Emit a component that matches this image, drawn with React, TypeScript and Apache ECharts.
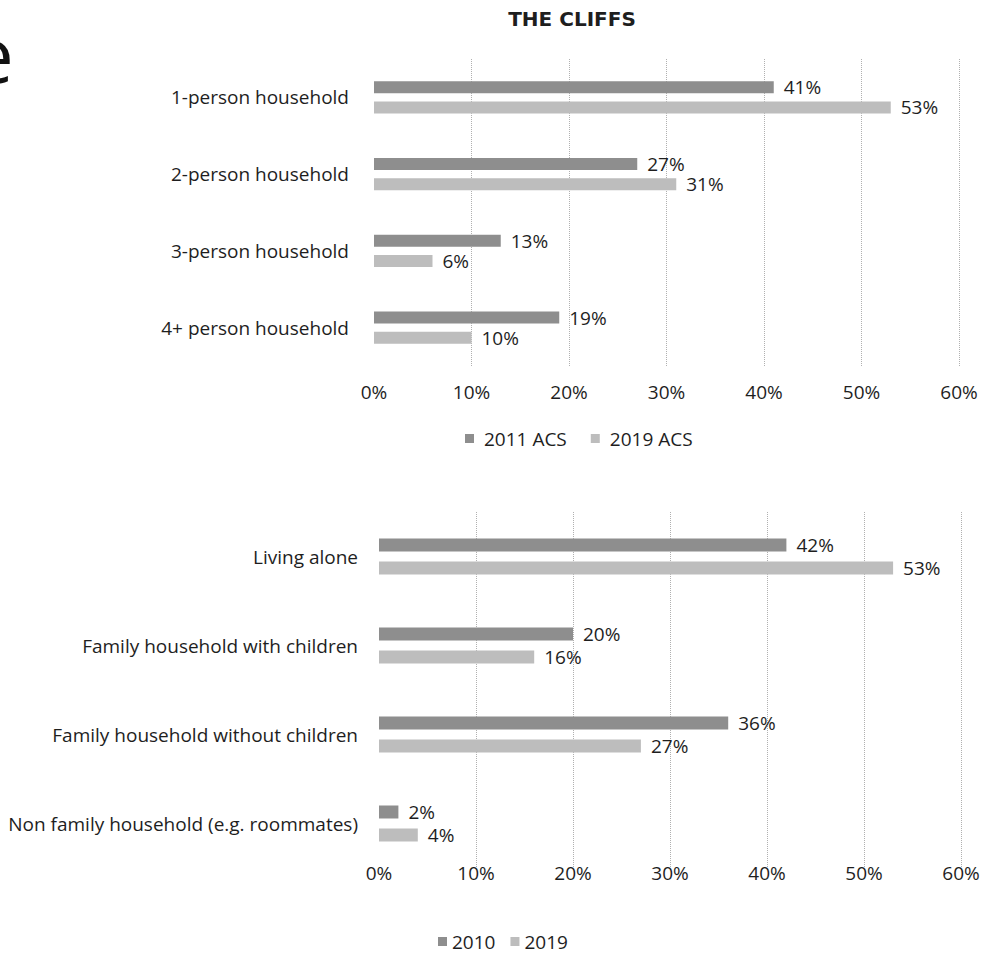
import React, { useEffect, useRef } from "react";
import * as echarts from "echarts";

const sizeCategories = ["1-person household", "2-person household", "3-person household", "4+ person household"];
const acs2011 = [41, 27, 13, 19];
const acs2019 = [53, 31, 6, 10];
const sizeSeriesNames = ["2011 ACS", "2019 ACS"];

const typeCategories = [
  "Living alone",
  "Family household with children",
  "Family household without children",
  "Non family household (e.g. roommates)",
];
const type2010 = [42, 20, 36, 2];
const type2019 = [53, 16, 27, 4];
const typeSeriesNames = ["2010", "2019"];

const axisMin = 0;
const axisMax = 60;
const axisStep = 10;

const FONT = "'Open Sans', 'DejaVu Sans', sans-serif";
const DARK = "#8e8e8e";
const LIGHT = "#bdbdbd";
const TEXT = "#1e1e1e";

export default function App() {
  const ref = useRef<HTMLDivElement>(null);
  useEffect(() => {
    document.body.style.margin = "0";
    const chart = echarts.init(ref.current!, null, { renderer: "svg" });
    const xAxisBase = (gridIndex: number, margin: number) => ({
      type: "value",
      gridIndex,
      min: axisMin,
      max: axisMax,
      interval: axisStep,
      axisLine: { show: false },
      axisTick: { show: false },
      axisLabel: { formatter: "{value}%", fontSize: 19, color: TEXT, fontFamily: FONT, margin },
      splitLine: {
        show: true,
        showMinLine: false,
        lineStyle: { type: "dotted", color: "#b0b0b0", width: 1 },
      },
    });
    const yAxisBase = (gridIndex: number, data: string[], margin: number) => ({
      type: "category",
      gridIndex,
      inverse: true,
      data,
      axisLine: { show: false },
      axisTick: { show: false },
      axisLabel: { fontSize: 19, color: TEXT, fontFamily: FONT, margin },
    });
    const label = {
      show: true,
      position: "right",
      distance: 10,
      formatter: "{c}%",
      fontSize: 19,
      color: TEXT,
      fontFamily: FONT,
    };
    const bar = (name: string, data: number[], idx: number, color: string, w: number, gap: string) => ({
      type: "bar",
      name,
      data,
      xAxisIndex: idx,
      yAxisIndex: idx,
      barWidth: w,
      barGap: gap,
      itemStyle: { color },
      label,
    });
    chart.setOption({
      animation: false,
      backgroundColor: "#ffffff",
      textStyle: { fontFamily: FONT },
      grid: [
        { left: 374, width: 585, top: 59, height: 307 },
        { left: 379, width: 582, top: 512, height: 356 },
      ],
      xAxis: [xAxisBase(0, 16), xAxisBase(1, -5)],
      yAxis: [yAxisBase(0, sizeCategories, 25), yAxisBase(1, typeCategories, 21)],
      legend: [
        {
          data: sizeSeriesNames,
          left: 465,
          top: 429,
          padding: 0,
          itemWidth: 9,
          itemHeight: 9,
          itemGap: 24,
          icon: "rect",
          textStyle: { fontSize: 19, color: TEXT, fontFamily: FONT, padding: [0, 0, 0, 5] },
        },
        {
          data: typeSeriesNames,
          left: 438,
          top: 932,
          padding: 0,
          itemWidth: 9,
          itemHeight: 9,
          itemGap: 15,
          icon: "rect",
          textStyle: { fontSize: 19, color: TEXT, fontFamily: FONT },
        },
      ],
      series: [
        bar(sizeSeriesNames[0], acs2011, 0, DARK, 12, "67%"),
        bar(sizeSeriesNames[1], acs2019, 0, LIGHT, 12, "67%"),
        bar(typeSeriesNames[0], type2010, 1, DARK, 13, "77%"),
        bar(typeSeriesNames[1], type2019, 1, LIGHT, 13, "77%"),
      ],
      graphic: [
        {
          type: "text",
          x: 572,
          y: 19,
          style: {
            text: "THE CLIFFS",
            font: "bold 20px 'DejaVu Sans', sans-serif",
            fill: TEXT,
            align: "center",
            verticalAlign: "middle",
          },
        },
        {
          type: "text",
          x: -29,
          y: 15,
          style: {
            text: "e",
            font: "76px 'Open Sans', sans-serif",
            fill: "#111",
            align: "left",
            verticalAlign: "top",
          },
        },
      ],
    });
    return () => chart.dispose();
  }, []);
  return <div ref={ref} style={{ width: 991, height: 953 }} />;
}
